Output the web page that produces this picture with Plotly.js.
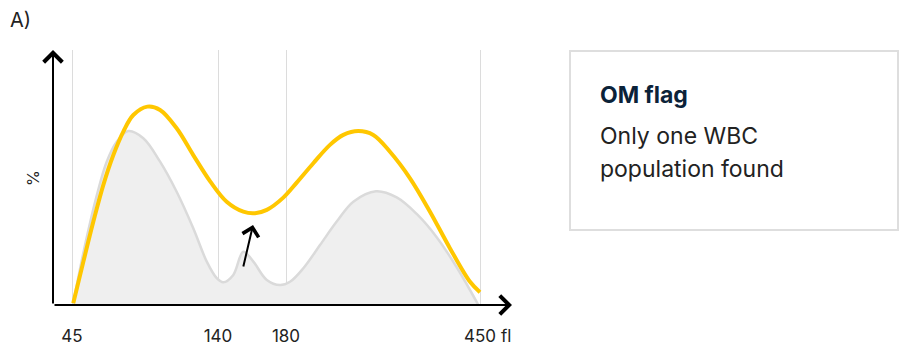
<!DOCTYPE html>
<html>
<head>
<meta charset="utf-8">
<script src="https://cdn.plot.ly/plotly-3.0.1.min.js"></script>
<style>html,body{margin:0;padding:0;background:#fff}#chart{width:899px;height:350px}</style>
</head>
<body>
<div id="chart"></div>
<script>
// ---- data ----
const tickValues = [45, 140, 180, 450];          // fl
const tickLabels = ['45', '140', '180', '450'];
const unitLabel = 'fl';
const yLabel = '%';
const panelLabel = 'A)';
const flagTitle = 'OM flag';
const flagLines = ['Only one WBC', 'population found'];

// grey filled distribution (fl, %)
const greyX = [45.8, 52.8, 61.1, 67.6, 74.1, 81.6, 91.4, 102.3, 113.1, 123.9, 132.7, 139.2, 143.1, 149.0, 154.9, 160.8, 168.7, 176.5, 185.6, 204.1, 227.3, 250.6, 273.7, 305.3, 334.1, 361.9, 389.7, 417.6, 447.7];
const greyY = [0.7, 21.6, 42.9, 56.2, 64.0, 68.2, 65.4, 56.2, 44.4, 30.1, 17.0, 10.5, 8.9, 11.8, 20.9, 17.0, 9.8, 7.8, 9.1, 14.4, 23.5, 32.7, 40.5, 44.6, 42.2, 35.7, 26.6, 14.8, 0];

// yellow curve (fl, %)
const yellowX = [45.8, 52.4, 58.9, 65.4, 71.9, 78.4, 84.9, 94.0, 102.3, 113.1, 123.9, 135.0, 145.1, 154.9, 161.8, 168.7, 178.4, 194.9, 218.0, 241.2, 259.8, 280.6, 301.5, 324.7, 352.6, 380.4, 408.3, 436.1, 450];
const yellowY = [0.7, 17.0, 32.7, 47.1, 58.8, 68.0, 74.5, 77.8, 76.5, 69.3, 58.8, 48.4, 40.5, 36.6, 36.0, 37.3, 42.1, 48.0, 55.6, 62.8, 66.7, 68.2, 66.7, 60.1, 49.7, 36.6, 22.2, 9.1, 5.0];

// pointer arrow (fl, %)
const pointerTail = [154.7, 14.5];
const pointerTip = [160.6, 31.4];

// ---- piecewise axis scale (the reference axis is not linear in fl) ----
const scaleBreaksFl = [45, 140, 180, 450];
const scaleBreaksPos = [19, 165, 233, 427];
const axisMax = 459;
function pos(fl) {
  for (let i = 0; i < scaleBreaksFl.length - 1; i++) {
    const a = scaleBreaksFl[i], b = scaleBreaksFl[i + 1];
    if (fl <= b || i === scaleBreaksFl.length - 2) {
      const t = (fl - a) / (b - a);
      return scaleBreaksPos[i] + t * (scaleBreaksPos[i + 1] - scaleBreaksPos[i]);
    }
  }
}

const FONT = 'Inter, Lato, "Open Sans", sans-serif';

const traces = [
  {
    x: greyX.map(pos), y: greyY, type: 'scatter', mode: 'lines',
    line: {color: '#dadada', width: 2.5, shape: 'spline', smoothing: 1},
    fill: 'tozeroy', fillcolor: '#efefef', hoverinfo: 'skip'
  },
  {
    x: yellowX.map(pos), y: yellowY, type: 'scatter', mode: 'lines',
    line: {color: '#ffc700', width: 4, shape: 'spline', smoothing: 1},
    hoverinfo: 'skip'
  }
];

const arrowBase = {text: '', showarrow: true, axref: 'x', ayref: 'y', xref: 'x', yref: 'y',
  arrowhead: 4, arrowsize: 1.8, arrowwidth: 2, arrowcolor: '#000'};

const layout = {
  width: 899, height: 350,
  margin: {l: 53, r: 387, t: 50, b: 45},
  paper_bgcolor: '#fff', plot_bgcolor: '#fff',
  showlegend: false,
  font: {family: FONT, color: '#222'},
  xaxis: {
    range: [0, axisMax], tickmode: 'array',
    tickvals: tickValues.map(pos), ticktext: tickLabels,
    showgrid: true, gridcolor: '#dcdcdc', gridwidth: 1,
    zeroline: false, showline: false, ticks: '',
    tickfont: {size: 17, color: '#222', family: FONT},
    ticklabelstandoff: 19, fixedrange: true
  },
  yaxis: {
    range: [0, 100], showgrid: false, zeroline: false, showline: false,
    showticklabels: false, ticks: '', fixedrange: true
  },
  annotations: [
    Object.assign({}, arrowBase, {x: 0, y: 100, ax: 0, ay: 0}),
    Object.assign({}, arrowBase, {x: axisMax, y: 0, ax: 0, ay: 0}),
    Object.assign({}, arrowBase, {arrowsize: 1.6, x: pos(pointerTip[0]), y: pointerTip[1], ax: pos(pointerTail[0]), ay: pointerTail[1]}),
    {text: unitLabel, showarrow: false, xref: 'x', yref: 'paper', x: pos(450) + 19, y: -0.122,
      xanchor: 'left', yanchor: 'middle', font: {size: 17, color: '#222'}},
    {text: panelLabel, showarrow: false, xref: 'paper', yref: 'paper', x: -0.098, y: 1.118,
      xanchor: 'left', yanchor: 'middle', font: {size: 20, color: '#222'}},
    {text: yLabel, showarrow: false, xref: 'paper', yref: 'paper', x: -0.0436, y: 0.498,
      xanchor: 'center', yanchor: 'middle', textangle: -90, font: {size: 16, color: '#222'}},
    {text: '<b>' + flagTitle + '</b>', showarrow: false, xref: 'paper', yref: 'paper', x: 1.1874, y: 0.8235,
      xanchor: 'left', yanchor: 'middle', font: {size: 23, color: '#0b2239'}},
    {text: flagLines[0], showarrow: false, xref: 'paper', yref: 'paper', x: 1.1874, y: 0.663,
      xanchor: 'left', yanchor: 'middle', font: {size: 23, color: '#222'}},
    {text: flagLines[1], showarrow: false, xref: 'paper', yref: 'paper', x: 1.1874, y: 0.533,
      xanchor: 'left', yanchor: 'middle', font: {size: 23, color: '#222'}}
  ],
  shapes: [
    {type: 'rect', xref: 'paper', yref: 'paper', x0: 1.1264, x1: 1.841, y0: 0.294, y1: 0.996,
      line: {color: '#dedede', width: 2}, fillcolor: 'rgba(0,0,0,0)'}
  ]
};

Plotly.newPlot('chart', traces, layout, {displayModeBar: false, staticPlot: true});
</script>
</body>
</html>
